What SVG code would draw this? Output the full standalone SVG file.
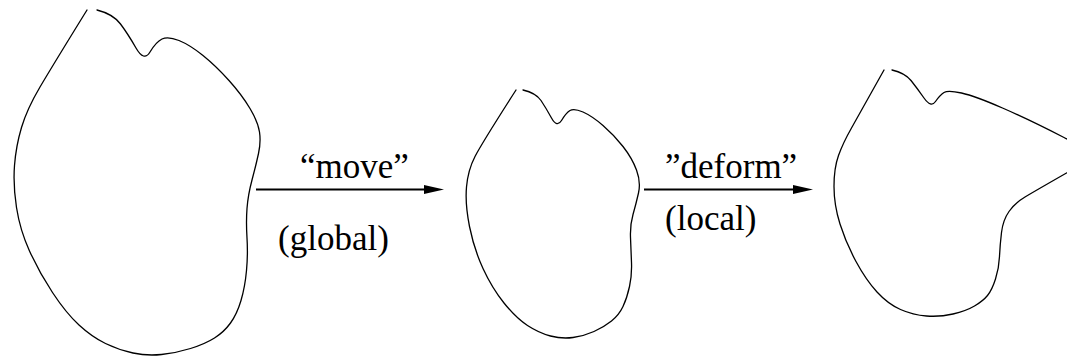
<svg xmlns="http://www.w3.org/2000/svg" width="1067" height="358" viewBox="0 0 1067 358">
<style>
.shape{fill:none;stroke:#000;stroke-width:1.3;stroke-linecap:round;stroke-linejoin:round}
.conn{fill:none;stroke:#000;stroke-width:2}
.lbl{font-family:"Liberation Serif","Times New Roman",serif;font-size:35px;fill:#000}
</style>
<defs>
<marker id="ah" markerUnits="userSpaceOnUse" markerWidth="20" markerHeight="10" refX="6" refY="4.5" orient="auto">
<path d="M0,0 L20,4.5 L0,9 z" fill="#000"/>
</marker>
</defs>
<g id="shape-original">
<path class="shape" d="M97,10 Q113,14 120.5,24 Q128,34 136,48 Q144,62 150,52 Q156,42 162,39 Q168,36 179,40.5 Q190,45 203,55.5 Q216,66 229,80.5 Q242,95 250,108.5 Q258,122 259.5,132 Q261,142 258.5,153.5 Q256,165 252,180 Q248,195 247,208.5 Q246,222 247,238 Q248,254 246.5,270.5 Q245,287 241,300.5 Q237,314 230.5,323 Q224,332 214.5,338 Q205,344 190.5,348.5 Q176,353 161.5,354.5 Q147,356 133,353 Q119,350 105.5,343.5 Q92,337 79,325 Q66,313 52.5,292.5 Q39,272 29.5,251 Q20,230 16.5,207.5 Q13,185 14.5,165.5 Q16,146 21.5,127.5 Q27,109 40,87 Q53,65 87,10"/>
</g>
<g id="shape-moved">
<path class="shape" d="M523,90 Q536,93 541,100.5 Q546,108 551.5,118 Q557,128 561.5,120.5 Q566,113 570,110.5 Q574,108 583,112 Q592,116 603,125.5 Q614,135 623,146.5 Q632,158 636.5,170 Q641,182 638.5,193 Q636,204 633,214.5 Q630,225 630.5,237.5 Q631,250 631.5,262.5 Q632,275 629.5,286.5 Q627,298 623,306.5 Q619,315 611.5,321 Q604,327 594,331.5 Q584,336 573,337.5 Q562,339 550.5,336 Q539,333 527.5,325.5 Q516,318 504,303 Q492,288 483,268.5 Q474,249 469.5,226.5 Q465,204 466.5,187 Q468,170 475,156.5 Q482,143 516,90"/>
</g>
<g id="shape-deformed">
<path class="shape" d="M892,70 Q905,73 911,80.5 Q917,88 924,98 Q931,108 935.5,101.5 Q940,95 944,92.5 Q948,90 961.5,93 Q975,96 1002.5,108 Q1030,120 1064,137.5 Q1098,155 1066.5,173 Q1035,191 1025,197 Q1015,203 1009,211.5 Q1003,220 1001.5,232.5 Q1000,245 999.5,256.5 Q999,268 995.5,279 Q992,290 987.5,295.5 Q983,301 974.5,306 Q966,311 953,314 Q940,317 926.5,316 Q913,315 900.5,309.5 Q888,304 877,292 Q866,280 856,261.5 Q846,243 840,224 Q834,205 834,186.5 Q834,168 838.5,155.5 Q843,143 851.5,128 Q860,113 884,70"/>
</g>
<g id="connectors">
<line class="conn" x1="256" y1="189.5" x2="430" y2="189.5" marker-end="url(#ah)"/>
<line class="conn" x1="644" y1="189.5" x2="799" y2="189.5" marker-end="url(#ah)"/>
</g>
<g id="labels">
<text class="lbl" x="300" y="178">“move”</text>
<text class="lbl" x="278" y="250">(global)</text>
<text class="lbl" x="665" y="178">”deform”</text>
<text class="lbl" x="665" y="230">(local)</text>
</g>
</svg>
